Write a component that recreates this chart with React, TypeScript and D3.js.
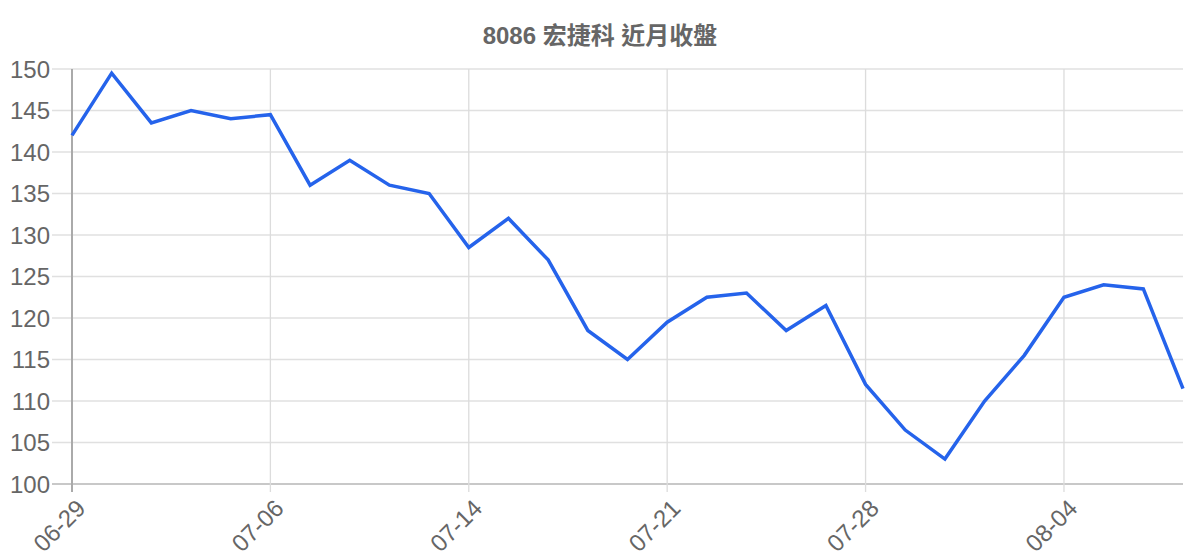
import React from "react";
import * as d3 from "d3";

const dates = [
  "06-29", "06-30", "07-01", "07-02", "07-03", "07-06", "07-07", "07-08", "07-09", "07-10",
  "07-14", "07-15", "07-16", "07-17", "07-18", "07-21", "07-22", "07-23", "07-24", "07-25",
  "07-28", "07-29", "07-30", "07-31", "08-01", "08-04", "08-05", "08-06", "08-07",
];
const closes = [
  142, 149.5, 143.5, 145, 144, 144.5, 136, 139, 136, 135,
  128.5, 132, 127, 118.5, 115, 119.5, 122.5, 123, 118.5, 121.5,
  112, 106.5, 103, 110, 115.5, 122.5, 124, 123.5, 111.5,
];
const yTicks = [100, 105, 110, 115, 120, 125, 130, 135, 140, 145, 150];
const labelEvery = 5;
const title = "8086 宏捷科 近月收盤";

export default function App() {
  const W = 1200, H = 560;
  const left = 72, right = 1183, top = 69, bottom = 484;
  const x = d3.scaleLinear().domain([0, dates.length - 1]).range([left, right]);
  const y = d3.scaleLinear().domain([100, 150]).range([bottom, top]);
  const line = d3.line<number>().x((_, i) => x(i)).y((d) => y(d));
  const font = "'Liberation Sans', Arial, sans-serif";
  const xTickIdx = dates.map((_, i) => i).filter((i) => i % labelEvery === 0);

  return (
    <svg width={W} height={H} style={{ position: "absolute", left: 0, top: 0, background: "#fff" }} fontFamily={font}>
      <text x={600} y={44} textAnchor="middle" fontSize={24} fontWeight="bold" fill="#666"
        fontFamily="'Liberation Sans', 'Noto Sans CJK TC', sans-serif">{title}</text>
      {yTicks.map((t) => (
        <g key={t}>
          <line x1={52} x2={right} y1={y(t)} y2={y(t)} stroke={t === 100 ? "#c8c8c8" : "#e0e0e0"} strokeWidth={t === 100 ? 2 : 1.3} />
          <text x={50} y={y(t)} dy="0.36em" textAnchor="end" fontSize={24} fill="#666">{t}</text>
        </g>
      ))}
      {xTickIdx.map((i) => (
        <g key={i}>
          <line x1={x(i)} x2={x(i)} y1={top} y2={bottom + 8} stroke={i === 0 ? "#aaa" : "#dcdcdc"} strokeWidth={i === 0 ? 2 : 1.3} />
          <text transform={`translate(${x(i) + 3},${bottom + 14}) rotate(-45)`} textAnchor="end" dy="0.7em" fontSize={24} fill="#666">{dates[i]}</text>
        </g>
      ))}
      <path d={line(closes) || ""} fill="none" stroke="#2563eb" strokeWidth={3.5} strokeLinejoin="miter" />
    </svg>
  );
}
